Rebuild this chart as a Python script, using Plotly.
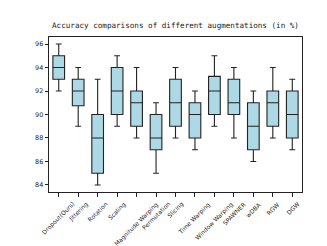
import plotly.graph_objects as go

categories = ["Dropout(Ours)", "Jittering", "Rotation", "Scaling", "Magnitude Warping",
              "Permutation", "Slicing", "Time Warping", "Window Warping", "SPAWNER",
              "wDBA", "RGW", "DGW"]
lower = [92, 89, 84, 89, 88, 85, 88, 87, 89, 88, 86, 88, 87]
q1 =    [93, 90.75, 85, 90, 89, 87, 89, 88, 90, 90, 87, 89, 88]
median = [94, 92, 88, 92, 91, 88, 91, 90, 92, 91, 89, 91, 90]
q3 =    [95, 93, 90, 94, 92, 90, 93, 91, 93.25, 93, 91, 92, 92]
upper = [96, 94, 93, 95, 94, 91, 94, 92, 95, 94, 92, 94, 93]
y_ticks = [84, 86, 88, 90, 92, 94, 96]

fig = go.Figure()
fig.add_trace(go.Box(
    x=categories, q1=q1, median=median, q3=q3,
    lowerfence=lower, upperfence=upper,
    fillcolor="#add8e6",
    line=dict(color="#222222", width=1.1),
    width=0.6, whiskerwidth=0.5,
    boxpoints=False, showlegend=False, hoverinfo="skip",
))

# rotated, centre-aligned category labels (matplotlib style), placed via the x axis
for c in categories:
    fig.add_annotation(
        x=c, xref="x", y=0, yref="paper", yanchor="top", xanchor="center",
        yshift=-5.5, text=c, textangle=-45, showarrow=False,
        font=dict(family="DejaVu Sans", size=6.0, color="#222"),
    )

fig.update_layout(
    width=327, height=246,
    margin=dict(l=41, r=33, t=29, b=62, autoexpand=False),
    paper_bgcolor="white", plot_bgcolor="white",
    title=dict(text="Accuracy comparisons of different augmentations (in %)",
               font=dict(family="DejaVu Sans Mono", size=7.6, color="#222"),
               x=0.5, xanchor="center", xref="paper",
               y=1 - 17 / 246, yref="container", yanchor="middle"),
    font=dict(family="DejaVu Sans", size=6.4, color="#222"),
)
fig.update_xaxes(
    type="category", range=[-0.5, 12.5], showticklabels=False, automargin=False,
    showline=True, linecolor="#222", linewidth=1, mirror=True,
    ticks="outside", ticklen=3.5, tickcolor="#222", tickwidth=0.8,
    showgrid=False, zeroline=False,
)
fig.update_yaxes(
    range=[83.4, 96.6], tickvals=y_ticks, ticktext=[str(v) for v in y_ticks],
    automargin=False,
    showline=True, linecolor="#222", linewidth=1, mirror=True,
    ticks="outside", ticklen=3.5, tickcolor="#222", tickwidth=0.8,
    showgrid=False, zeroline=False, tickfont=dict(size=6.4),
)

fig.write_html("out.html")
